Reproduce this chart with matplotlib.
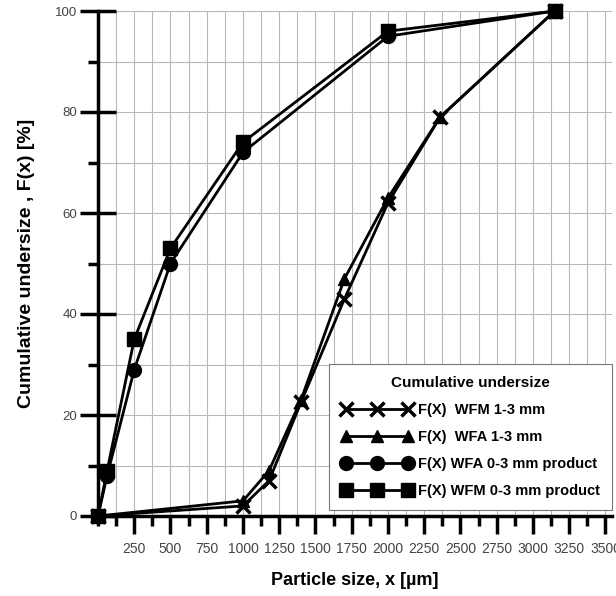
import matplotlib
matplotlib.use("Agg")
from matplotlib import pyplot as plt
from matplotlib.ticker import MultipleLocator

plt.rcParams['font.family'] = ['Liberation Sans', 'DejaVu Sans']

# WFM 1-3 mm
wfm13_x = [0, 1000, 1180, 1400, 1700, 2000, 2360, 3150]
wfm13_y = [0, 2, 7, 22.5, 43, 62, 79, 100]
# WFA 1-3 mm
wfa13_x = [0, 1000, 1180, 1400, 1700, 2000, 2360, 3150]
wfa13_y = [0, 3, 9, 23, 47, 63, 79, 100]
# WFA 0-3 mm product
wfa03_x = [0, 63, 250, 500, 1000, 2000, 3150]
wfa03_y = [0, 8, 29, 50, 72, 95, 100]
# WFM 0-3 mm product
wfm03_x = [0, 63, 250, 500, 1000, 2000, 3150]
wfm03_y = [0, 9, 35, 53, 74, 96, 100]

xticks = [250, 500, 750, 1000, 1250, 1500, 1750, 2000, 2250, 2500, 2750, 3000, 3250, 3500]
yticks = [0, 20, 40, 60, 80, 100]

fig = plt.figure(figsize=(6.16, 5.96), dpi=100)
ax = fig.add_axes([98/616, 1-516/596, 514/616, 505/596])

ax.plot(wfm13_x, wfm13_y, color='black', lw=2, marker='x', ms=10, mew=2.5,
        label='F(X)  WFM 1-3 mm', clip_on=False, zorder=3)
ax.plot(wfa13_x, wfa13_y, color='black', lw=2, marker='^', ms=9,
        label='F(X)  WFA 1-3 mm', clip_on=False, zorder=3)
ax.plot(wfa03_x, wfa03_y, color='black', lw=2, marker='o', ms=10,
        label='F(X) WFA 0-3 mm product', clip_on=False, zorder=3)
ax.plot(wfm03_x, wfm03_y, color='black', lw=2, marker='s', ms=10,
        label='F(X) WFM 0-3 mm product', clip_on=False, zorder=3)

ax.set_xlim(0, 3545)
ax.set_ylim(0, 100)
ax.set_xticks(xticks)
ax.xaxis.set_minor_locator(MultipleLocator(125))
ax.set_yticks(yticks)
ax.yaxis.set_minor_locator(MultipleLocator(10))

ax.grid(True, which='both', color='#b8b8b8', lw=0.8)
ax.set_axisbelow(True)

for s in ['top', 'right']:
    ax.spines[s].set_visible(False)
for s in ['left', 'bottom']:
    ax.spines[s].set_linewidth(2.5)

ax.tick_params(axis='y', which='major', direction='inout', length=26, width=2.5,
               labelsize=9.5, labelcolor='#444444', pad=2)
ax.tick_params(axis='y', which='minor', direction='out', length=7, width=2.5)
ax.tick_params(axis='x', which='major', direction='out', length=13, width=2.5,
               labelsize=10, labelcolor='#444444', pad=6)
ax.tick_params(axis='x', which='minor', direction='out', length=7, width=2.5)

ax.set_xlabel('Particle size, x [µm]', fontsize=13, fontweight='bold', labelpad=11)
ax.set_ylabel('Cumulative undersize , F(x) [%]', fontsize=14, fontweight='bold', labelpad=14)

leg = ax.legend(loc='lower right', bbox_to_anchor=(1.0, 0.012), borderaxespad=0,
                title='Cumulative undersize', numpoints=3, handlelength=4.9,
                fancybox=False, framealpha=1, edgecolor='#777777',
                prop={'weight': 'bold', 'size': 10.5},
                labelspacing=0.9, handletextpad=0.4, borderpad=0.8)
leg.get_title().set_fontweight('bold')
leg.get_title().set_fontsize(11)
leg.get_frame().set_linewidth(0.8)
leg.set_zorder(5)

fig.savefig('out.png', dpi=100)
